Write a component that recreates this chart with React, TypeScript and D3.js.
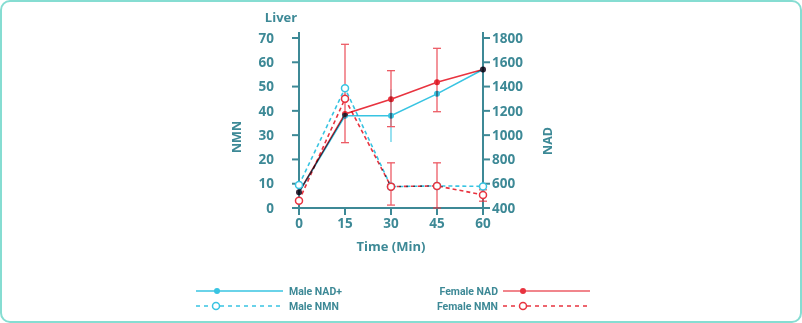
import React from "react";
import * as d3 from "d3";

const times = [0, 15, 30, 45, 60];
const maleNAD = [530, 1160, 1160, 1340, 1540];
const femaleNAD = [530, 1175, 1295, 1435, 1540];
const maleNMN = [9.5, 49.3, 8.8, 9.1, 8.9];
const femaleNMN = [3.0, 45.0, 8.8, 9.1, 5.4];

// error bars: [time, low, high]
const maleNADErr: [number, number, number][] = [[30, 943, 1377]];
const femaleNADErr: [number, number, number][] = [
  [30, 1070, 1531],
  [45, 1193, 1715],
];
const femaleNMNErr: [number, number, number][] = [
  [15, 26.9, 67.4],
  [30, 1.2, 18.6],
  [45, 0, 18.6],
  [60, 2.8, 7.5],
];

const nmnTicks = [0, 10, 20, 30, 40, 50, 60, 70];
const nadTicks = [400, 600, 800, 1000, 1200, 1400, 1600, 1800];

const CYAN = "#38c4e2";
const RED = "#e8333f";
const TEAL = "#3d8996";
const FONT = "'Open Sans', 'Noto Sans', sans-serif";

export default function App() {
  const x = d3.scaleLinear().domain([0, 60]).range([299, 483]);
  const yL = d3.scaleLinear().domain([0, 70]).range([208, 38]);
  const yR = d3.scaleLinear().domain([400, 1800]).range([208, 38]);

  const lineR = d3
    .line<number>()
    .x((_, i) => x(times[i]))
    .y((d) => yR(d));
  const lineL = d3
    .line<number>()
    .x((_, i) => x(times[i]))
    .y((d) => yL(d));

  const errBars = (
    errs: [number, number, number][],
    y: d3.ScaleLinear<number, number>,
    color: string,
    key: string,
    caps = true
  ) =>
    errs.map(([t, lo, hi], i) => (
      <g key={key + i} stroke={color} strokeWidth={1.3}>
        <line x1={x(t)} x2={x(t)} y1={y(lo)} y2={y(hi)} />
        {caps && <line x1={x(t) - 4} x2={x(t) + 4} y1={y(lo)} y2={y(lo)} />}
        {caps && <line x1={x(t) - 4} x2={x(t) + 4} y1={y(hi)} y2={y(hi)} />}
      </g>
    ));

  return (
    <div style={{ position: "absolute", left: 0, top: 0 }}>
      <svg width={802} height={323} style={{ display: "block" }} fontFamily={FONT}>
        <rect x={1} y={1} width={800} height={321} rx={9} fill="#fff" stroke="#86ddd2" strokeWidth={2} />

        {/* title */}
        <text x={281} y={22} fill={TEAL} fontSize={13} fontWeight={700} textAnchor="middle">
          Liver
        </text>

        {/* axes */}
        <g stroke={TEAL} strokeWidth={2}>
          <line x1={299} x2={299} y1={32} y2={215} />
          <line x1={483} x2={483} y1={32} y2={215} />
          <line x1={292} x2={490} y1={208} y2={208} />
          {nmnTicks.map((t) => (
            <line key={"lt" + t} x1={292} x2={299} y1={yL(t)} y2={yL(t)} />
          ))}
          {nadTicks.map((t) => (
            <line key={"rt" + t} x1={483} x2={490} y1={yR(t)} y2={yR(t)} />
          ))}
          {times.map((t) => (
            <line key={"xt" + t} x1={x(t)} x2={x(t)} y1={208} y2={215} />
          ))}
        </g>
        <g fill={TEAL} fontSize={13.5} fontWeight={700}>
          {nmnTicks.map((t) => (
            <text key={"ll" + t} x={274} y={yL(t)} dy="0.35em" textAnchor="end">
              {t}
            </text>
          ))}
          {nadTicks.map((t) => (
            <text key={"rl" + t} x={492} y={yR(t)} dy="0.35em" textAnchor="start">
              {t}
            </text>
          ))}
          {times.map((t) => (
            <text key={"xl" + t} x={x(t)} y={228} textAnchor="middle">
              {t}
            </text>
          ))}
          <text x={391} y={251} textAnchor="middle" fontSize={13}>
            Time (Min)
          </text>
          <text transform="translate(241,137) rotate(-90)" textAnchor="middle" fontSize={12.5}>
            NMN
          </text>
          <text transform="translate(552,141) rotate(-90)" textAnchor="middle" fontSize={12.5}>
            NAD
          </text>
        </g>

        {/* error bars */}
        <g opacity={0.8}>
          {errBars(maleNADErr, yR, CYAN, "men", false)}
          {errBars(femaleNMNErr, yL, RED, "fnm")}
          {errBars(femaleNADErr, yR, RED, "fna")}
        </g>

        {/* NMN dashed */}
        <g style={{ mixBlendMode: "multiply" }}>
          <path d={lineL(maleNMN) || ""} fill="none" stroke={CYAN} strokeWidth={1.6} strokeDasharray="4,3" />
        </g>
        <g style={{ mixBlendMode: "multiply" }}>
          <path d={lineL(femaleNMN) || ""} fill="none" stroke={RED} strokeWidth={1.6} strokeDasharray="4,3" />
        </g>

        {/* NAD solid */}
        <g style={{ mixBlendMode: "multiply" }}>
          <path d={lineR(maleNAD) || ""} fill="none" stroke={CYAN} strokeWidth={1.6} />
          {maleNAD.map((v, i) => (
            <circle key={"mn" + i} cx={x(times[i])} cy={yR(v)} r={3} fill={CYAN} />
          ))}
        </g>
        <g style={{ mixBlendMode: "multiply" }}>
          <path d={lineR(femaleNAD) || ""} fill="none" stroke={RED} strokeWidth={1.6} />
          {femaleNAD.map((v, i) => (
            <circle key={"fn" + i} cx={x(times[i])} cy={yR(v)} r={3} fill={RED} />
          ))}
        </g>

        {/* NMN markers */}
        {maleNMN.map((v, i) => (
          <circle key={"mm" + i} cx={x(times[i])} cy={yL(v)} r={3.5} fill="#fff" stroke={CYAN} strokeWidth={1.5} />
        ))}
        {femaleNMN.map((v, i) => (
          <circle key={"fm" + i} cx={x(times[i])} cy={yL(v)} r={3.5} fill="#fff" stroke={RED} strokeWidth={1.5} />
        ))}

        {/* legend */}
        <g fontSize={10.5} fontWeight={700} fill={TEAL} fontFamily="Roboto, 'Open Sans', sans-serif">
          <line x1={196} x2={283} y1={291} y2={291} stroke={CYAN} strokeWidth={1.5} />
          <circle cx={217} cy={291} r={3} fill={CYAN} />
          <text x={289} y={291} dy="0.35em">Male NAD+</text>

          <line x1={196} x2={283} y1={306} y2={306} stroke={CYAN} strokeWidth={1.5} strokeDasharray="4,4" />
          <circle cx={216} cy={306} r={3.5} fill="#fff" stroke={CYAN} strokeWidth={1.5} />
          <text x={289} y={306} dy="0.35em">Male NMN</text>

          <text x={498} y={291} dy="0.35em" textAnchor="end">Female NAD</text>
          <line x1={503} x2={590} y1={291} y2={291} stroke={RED} strokeWidth={1.5} opacity={0.8} />
          <circle cx={523} cy={291} r={3} fill={RED} />

          <text x={498} y={306} dy="0.35em" textAnchor="end">Female NMN</text>
          <line x1={503} x2={590} y1={306} y2={306} stroke={RED} strokeWidth={1.5} strokeDasharray="4,4" />
          <circle cx={523} cy={306} r={3.5} fill="#fff" stroke={RED} strokeWidth={1.5} />
        </g>
      </svg>
    </div>
  );
}
